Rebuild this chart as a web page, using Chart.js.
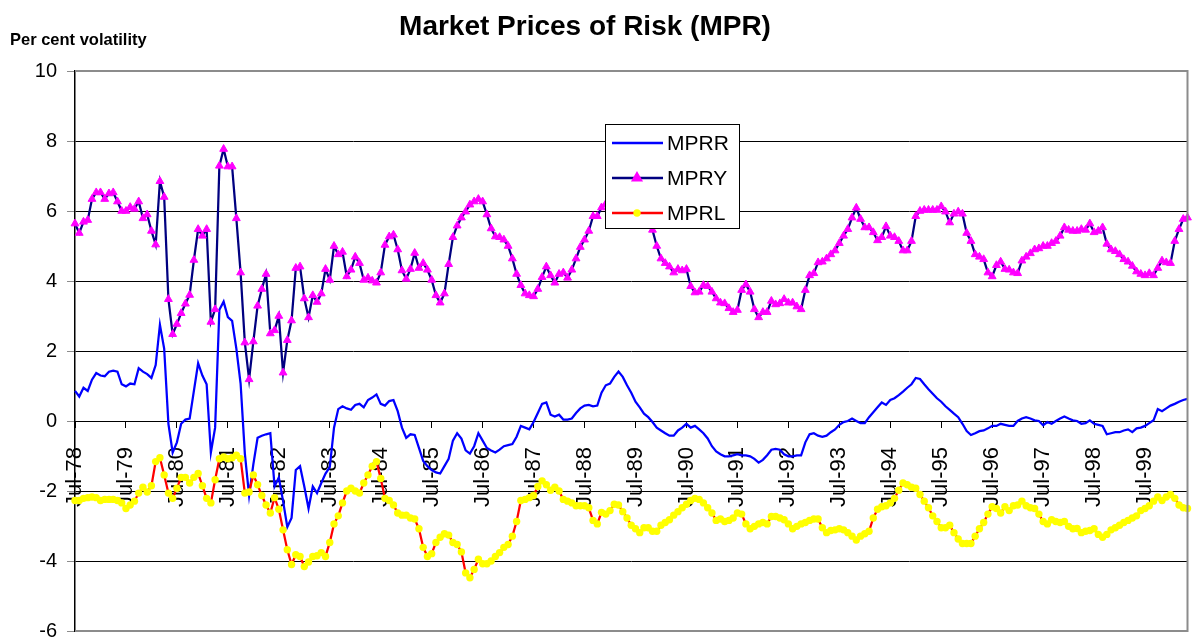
<!DOCTYPE html>
<html>
<head>
<meta charset="utf-8">
<title>Market Prices of Risk (MPR)</title>
<script src="https://cdn.jsdelivr.net/npm/chart.js@4.4.1/dist/chart.umd.min.js"></script>
<style>
  html, body { margin: 0; padding: 0; background: #fff; }
  #wrap { width: 1193px; height: 637px; }
</style>
</head>
<body>
<div id="wrap"><canvas id="mprChart" width="1193" height="637"></canvas></div>
<script>
// monthly series, first observation Jul-78 (one row = Jul..Jun)
const startYear = 1978;
const startMonth = 6; // July
const monthNames = ['Jan', 'Feb', 'Mar', 'Apr', 'May', 'Jun', 'Jul', 'Aug', 'Sep', 'Oct', 'Nov', 'Dec'];

const mprr = [
  0.86, 0.7, 0.95, 0.86, 1.18, 1.37, 1.3, 1.28, 1.41, 1.44, 1.41, 1.05,
  0.99, 1.07, 1.05, 1.51, 1.41, 1.34, 1.23, 1.6, 2.75, 2.07, -0.08, -0.9,
  -0.61, -0.08, 0.04, 0.07, 0.86, 1.65, 1.3, 1.05, -0.9, -0.19, 3.18, 3.41,
  2.97, 2.86, 2.07, 1.07, -0.93, -2.13, -1.24, -0.48, -0.42, -0.38, -0.35, -1.87,
  -1.61, -2.29, -3.03, -2.77, -1.4, -1.29, -1.87, -2.5, -1.87, -2.06, -1.77, -1.5,
  -1.32, -0.19, 0.34, 0.42, 0.36, 0.32, 0.46, 0.49, 0.39, 0.6, 0.67, 0.76,
  0.49, 0.44, 0.57, 0.6, 0.28, -0.19, -0.48, -0.38, -0.4, -0.77, -1.14, -1.29,
  -1.4, -1.47, -1.5, -1.29, -1.08, -0.56, -0.35, -0.5, -0.84, -0.93, -0.72, -0.35,
  -0.56, -0.77, -0.84, -0.9, -0.82, -0.72, -0.69, -0.66, -0.45, -0.14, -0.19, -0.24,
  -0.03, 0.23, 0.49, 0.53, 0.18, 0.13, 0.18, 0.04, 0.04, 0.07, 0.23, 0.36,
  0.44, 0.46, 0.42, 0.44, 0.81, 1.02, 1.07, 1.26, 1.41, 1.26, 1.02, 0.81,
  0.55, 0.39, 0.21, 0.11, -0.03, -0.19, -0.27, -0.35, -0.42, -0.42, -0.27, -0.19,
  -0.08, -0.19, -0.14, -0.24, -0.35, -0.5, -0.72, -0.87, -0.95, -1.01, -1.01, -0.98,
  -0.95, -0.98, -0.98, -1.01, -1.08, -1.19, -1.11, -0.98, -0.82, -0.8, -0.82, -0.95,
  -1.01, -1.01, -0.98, -0.98, -0.61, -0.38, -0.35, -0.42, -0.45, -0.42, -0.32, -0.24,
  -0.11, -0.03, 0, 0.07, 0, -0.06, -0.06, 0.11, 0.25, 0.39, 0.53, 0.46,
  0.6, 0.65, 0.74, 0.84, 0.95, 1.05, 1.23, 1.2, 1.05, 0.91, 0.78, 0.65,
  0.55, 0.42, 0.32, 0.21, 0.11, -0.08, -0.29, -0.4, -0.35, -0.29, -0.27, -0.21,
  -0.14, -0.14, -0.08, -0.11, -0.14, -0.14, 0, 0.07, 0.11, 0.07, 0.02, 0,
  -0.12, -0.03, -0.08, 0, 0.07, 0.13, 0.07, 0.02, 0, -0.08, -0.06, 0.02,
  -0.08, -0.11, -0.14, -0.38, -0.35, -0.32, -0.32, -0.27, -0.24, -0.32, -0.21, -0.19,
  -0.14, -0.06, 0.02, 0.34, 0.28, 0.36, 0.44, 0.49, 0.55, 0.6, 0.63
];

const mpry = [
  5.64, 5.37, 5.69, 5.74, 6.34, 6.53, 6.53, 6.34, 6.5, 6.53, 6.27, 6.0,
  6.0, 6.11, 6.06, 6.27, 5.79, 5.9, 5.43, 5.04, 6.85, 6.4, 3.48, 2.48,
  2.77, 3.08, 3.35, 3.6, 4.6, 5.48, 5.29, 5.48, 2.83, 3.19, 7.29, 7.77,
  7.27, 7.27, 5.79, 4.24, 2.24, 1.19, 2.27, 3.29, 3.77, 4.2, 2.5, 2.59,
  3.0, 1.38, 2.31, 2.87, 4.37, 4.41, 3.5, 2.96, 3.59, 3.4, 3.64, 4.34,
  4.03, 5.0, 4.76, 4.83, 4.13, 4.32, 4.69, 4.51, 4.03, 4.09, 4.01, 3.95,
  4.24, 5.03, 5.27, 5.32, 4.9, 4.3, 4.06, 4.34, 4.8, 4.37, 4.51, 4.32,
  4.03, 3.59, 3.38, 3.64, 4.48, 5.25, 5.58, 5.81, 5.98, 6.18, 6.27, 6.34,
  6.27, 5.9, 5.5, 5.27, 5.25, 5.18, 5.0, 4.64, 4.2, 3.88, 3.64, 3.59,
  3.56, 3.77, 4.11, 4.41, 4.16, 3.95, 4.2, 4.24, 4.09, 4.32, 4.64, 4.97,
  5.18, 5.43, 5.85, 5.85, 6.1, 6.2, 6.3, 6.4, 6.4, 6.35, 6.3, 6.2,
  6.1, 6.0, 5.85, 5.7, 5.46, 5.0, 4.64, 4.51, 4.41, 4.24, 4.34, 4.3,
  4.34, 3.85, 3.67, 3.69, 3.88, 3.85, 3.69, 3.5, 3.38, 3.36, 3.22, 3.11,
  3.17, 3.74, 3.9, 3.69, 3.19, 2.96, 3.11, 3.11, 3.43, 3.33, 3.36, 3.48,
  3.38, 3.38, 3.27, 3.19, 3.74, 4.16, 4.22, 4.53, 4.55, 4.64, 4.76, 4.87,
  5.08, 5.29, 5.48, 5.81, 6.09, 5.77, 5.53, 5.53, 5.39, 5.16, 5.25, 5.56,
  5.29, 5.25, 5.14, 4.87, 4.87, 5.14, 5.85, 6.0, 6.03, 6.03, 6.03, 6.03,
  6.13, 5.98, 5.67, 5.92, 5.98, 5.92, 5.37, 5.14, 4.76, 4.69, 4.62, 4.24,
  4.13, 4.45, 4.55, 4.34, 4.32, 4.24, 4.22, 4.58, 4.69, 4.79, 4.9, 4.93,
  5.0, 5.0, 5.08, 5.14, 5.29, 5.53, 5.46, 5.43, 5.43, 5.48, 5.46, 5.64,
  5.39, 5.43, 5.53, 5.06, 4.9, 4.85, 4.76, 4.62, 4.55, 4.43, 4.27, 4.2,
  4.16, 4.22, 4.16, 4.37, 4.58, 4.53, 4.51, 5.14, 5.48, 5.77, 5.81
];

const mprl = [
  -2.27, -2.27, -2.21, -2.19, -2.17, -2.19, -2.27, -2.24, -2.24, -2.24, -2.27, -2.34,
  -2.5, -2.4, -2.29, -2.06, -1.89, -2.03, -1.85, -1.16, -1.05, -1.54, -2.06, -2.21,
  -1.92, -1.61, -1.61, -1.77, -1.61, -1.5, -1.85, -2.21, -2.34, -1.68, -1.08, -1.03,
  -1.08, -1.05, -0.98, -1.08, -2.06, -2.03, -1.54, -1.82, -2.13, -2.4, -2.63, -2.19,
  -2.52, -3.11, -3.68, -4.1, -3.82, -3.87, -4.16, -4.03, -3.87, -3.85, -3.76, -3.87,
  -3.47, -2.94, -2.71, -2.34, -2.0, -1.92, -2.0, -2.06, -1.77, -1.54, -1.29, -1.16,
  -1.64, -2.21, -2.27, -2.4, -2.63, -2.69, -2.69, -2.77, -2.8, -3.08, -3.61, -3.87,
  -3.79, -3.47, -3.32, -3.22, -3.26, -3.47, -3.53, -3.74, -4.34, -4.48, -4.24, -3.95,
  -4.08, -4.08, -4.0, -3.87, -3.76, -3.61, -3.53, -3.29, -2.87, -2.27, -2.24, -2.19,
  -2.13, -1.87, -1.71, -1.82, -1.98, -1.89, -2.0, -2.24, -2.29, -2.34, -2.42, -2.42,
  -2.42, -2.48, -2.84, -2.94, -2.61, -2.66, -2.56, -2.38, -2.4, -2.59, -2.77, -2.98,
  -3.08, -3.19, -3.05, -3.05, -3.15, -3.15, -2.98, -2.9, -2.82, -2.69, -2.59, -2.48,
  -2.38, -2.27, -2.21, -2.24, -2.34, -2.48, -2.63, -2.84, -2.8, -2.87, -2.84, -2.77,
  -2.63, -2.66, -2.94, -3.08, -3.01, -2.94, -2.9, -2.94, -2.73, -2.73, -2.77, -2.82,
  -2.94, -3.08, -3.01, -2.94, -2.9, -2.84, -2.8, -2.8, -3.05, -3.19, -3.13, -3.11,
  -3.08, -3.11, -3.19, -3.29, -3.4, -3.29, -3.22, -3.15, -2.77, -2.52, -2.45, -2.42,
  -2.34, -2.21, -1.98, -1.77, -1.82, -1.89, -1.92, -2.1, -2.29, -2.48, -2.71, -2.87,
  -3.05, -3.05, -2.98, -3.19, -3.37, -3.5, -3.5, -3.5, -3.29, -3.08, -2.9, -2.66,
  -2.45, -2.5, -2.63, -2.45, -2.56, -2.42, -2.4, -2.29, -2.42, -2.48, -2.5, -2.66,
  -2.87, -2.94, -2.82, -2.87, -2.9, -2.87, -3.01, -3.08, -3.07, -3.19, -3.15, -3.13,
  -3.08, -3.24, -3.32, -3.24, -3.11, -3.05, -2.98, -2.9, -2.84, -2.77, -2.71, -2.56,
  -2.5, -2.42, -2.29, -2.17, -2.27, -2.17, -2.1, -2.21, -2.4, -2.48, -2.5
];

const yTicks = { min: -6, max: 10, step: 2 };

const labels = [];
for (let i = 0; i < mprr.length; i++) {
  const m = (startMonth + i) % 12;
  const yr = startYear + Math.floor((startMonth + i) / 12);
  labels.push(monthNames[m] + '-' + String(yr).slice(2));
}

const FONT = '"Liberation Sans", Arial, sans-serif';
Chart.defaults.font.family = FONT;
Chart.defaults.color = '#000';

// title, axis caption, frame and the boxed legend
const overlay = {
  id: 'overlay',
  afterDraw(chart) {
    const ctx = chart.ctx;
    const a = chart.chartArea;
    ctx.save();
    // grey frame on top / right / bottom, black value axis on the left
    ctx.strokeStyle = '#8c8c8c';
    ctx.lineWidth = 2;
    ctx.beginPath();
    ctx.moveTo(a.left, a.top);
    ctx.lineTo(a.right, a.top);
    ctx.lineTo(a.right, a.bottom);
    ctx.lineTo(a.left, a.bottom);
    ctx.stroke();

    ctx.fillStyle = '#000';
    ctx.textBaseline = 'middle';
    ctx.textAlign = 'center';
    ctx.font = 'bold 28px ' + FONT;
    ctx.fillText('Market Prices of Risk (MPR)', 585, 27);
    ctx.textAlign = 'left';
    ctx.font = 'bold 16.5px ' + FONT;
    ctx.fillText('Per cent volatility', 10, 40);

    // legend box
    const bx = 605, by = 124, bw = 134, bh = 104;
    ctx.fillStyle = '#fff';
    ctx.fillRect(bx, by, bw, bh);
    ctx.strokeStyle = '#000';
    ctx.lineWidth = 1;
    ctx.strokeRect(bx + 0.5, by + 0.5, bw, bh);
    ctx.font = '21px ' + FONT;
    chart.data.datasets.forEach((ds, i) => {
      const y = 143 + i * 35;
      ctx.strokeStyle = ds.borderColor;
      ctx.lineWidth = 2.5;
      ctx.beginPath();
      ctx.moveTo(612, y);
      ctx.lineTo(663, y);
      ctx.stroke();
      if (ds.pointRadius > 0) {
        ctx.fillStyle = ds.pointBackgroundColor;
        ctx.strokeStyle = ds.pointBorderColor;
        Chart.helpers.drawPoint(ctx, {
          pointStyle: ds.pointStyle, radius: ds.pointRadius, rotation: 0,
          borderWidth: ds.pointBorderWidth
        }, 637, y);
      }
      ctx.fillStyle = '#000';
      ctx.fillText(ds.label, 667, y + 1);
    });
    ctx.restore();
  }
};

new Chart(document.getElementById('mprChart'), {
  type: 'line',
  data: {
    labels: labels,
    datasets: [
      {
        label: 'MPRR', data: mprr, order: 3,
        borderColor: '#0000ff', borderWidth: 2.25, pointRadius: 0
      },
      {
        label: 'MPRY', data: mpry, order: 2,
        borderColor: '#000080', borderWidth: 2.25,
        pointStyle: 'triangle', pointRadius: 4.5, pointBorderWidth: 1,
        pointBackgroundColor: '#ff00ff', pointBorderColor: '#ff00ff'
      },
      {
        label: 'MPRL', data: mprl, order: 1,
        borderColor: '#ff0000', borderWidth: 2.25,
        pointStyle: 'circle', pointRadius: 3.7, pointBorderWidth: 0,
        pointBackgroundColor: '#ffff00', pointBorderColor: '#ffff00'
      }
    ]
  },
  options: {
    responsive: false,
    animation: false,
    clip: 6,
    layout: { padding: { left: 0, top: 71, right: 1, bottom: 6 } },
    elements: { line: { tension: 0 } },
    plugins: {
      legend: { display: false },
      tooltip: { enabled: false },
      title: { display: false }
    },
    scales: {
      x: {
        position: { y: 0 },
        grid: {
          drawOnChartArea: false,
          tickLength: 6,
          color: c => (c.index % 12 === 0 ? '#000' : 'rgba(0,0,0,0)')
        },
        border: { color: '#000', width: 1 },
        ticks: {
          autoSkip: false,
          maxRotation: 90,
          minRotation: 90,
          padding: 20,
          font: { size: 22 },
          callback: function (v, i) {
            return i % 12 === 0 ? this.getLabelForValue(v) : '';
          }
        },
        afterFit: s => {
          s.paddingLeft = 0; s.paddingRight = 0; s.paddingTop = 0; s.paddingBottom = 0;
        }
      },
      y: {
        min: yTicks.min,
        max: yTicks.max,
        ticks: { stepSize: yTicks.step, padding: 10, font: { size: 20, lineHeight: 0.6 } },
        grid: { color: '#000', tickColor: '#8c8c8c', tickLength: 8 },
        border: { color: '#000', width: 1.5 },
        afterFit: s => {
          s.width = 75;
          s.paddingTop = 0; s.paddingBottom = 0;
        }
      }
    }
  },
  plugins: [overlay]
});
</script>
</body>
</html>
